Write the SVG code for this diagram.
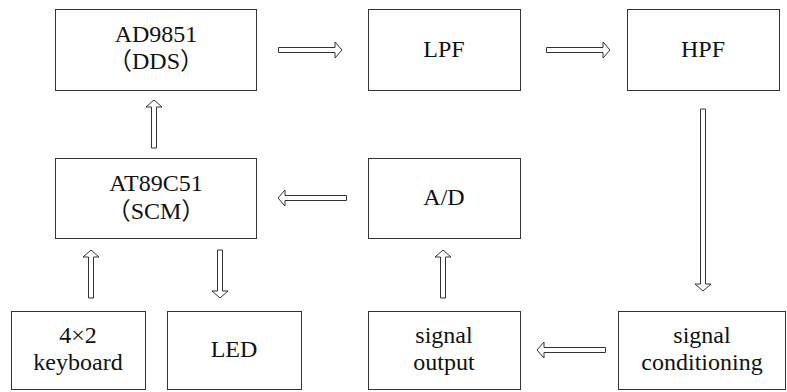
<svg xmlns="http://www.w3.org/2000/svg" width="787" height="392" viewBox="0 0 787 392">
<style>
.box{fill:#fff;stroke:#333;stroke-width:1}
.arr{fill:#fff;stroke:#333;stroke-width:1;stroke-linejoin:miter}
</style>
<rect width="787" height="392" fill="#fff"/>
<g font-family="Liberation Serif, Noto Sans CJK SC, serif" font-size="24" fill="#111" text-anchor="middle">
<g id="dds"><rect class="box" x="55.5" y="9.5" width="201" height="81"/><text x="156" y="42">AD9851</text><text x="156" y="69">（DDS）</text></g>
<g id="lpf"><rect class="box" x="368.5" y="9.5" width="152" height="81"/><text x="444" y="57">LPF</text></g>
<g id="hpf"><rect class="box" x="627.5" y="9.5" width="152" height="81"/><text x="703" y="57">HPF</text></g>
<g id="scm"><rect class="box" x="55.5" y="158.5" width="201" height="80"/><text x="156" y="191">AT89C51</text><text x="156" y="219">（SCM）</text></g>
<g id="ad"><rect class="box" x="368.5" y="158.5" width="152" height="80"/><text x="444" y="205">A/D</text></g>
<g id="keyboard"><rect class="box" x="11.5" y="311.5" width="134" height="78"/><text x="78" y="343">4×2</text><text x="78" y="370">keyboard</text></g>
<g id="led"><rect class="box" x="167.5" y="311.5" width="134" height="78"/><text x="234" y="357">LED</text></g>
<g id="output"><rect class="box" x="368.5" y="311.5" width="152" height="78"/><text x="444" y="343">signal</text><text x="444" y="370">output</text></g>
<g id="conditioning"><rect class="box" x="618.5" y="311.5" width="167" height="78"/><text x="702" y="343">signal</text><text x="702" y="370">conditioning</text></g>
</g>
<g id="connectors">
<polygon class="arr" points="278.5,47.5 335,47.5 335,42 342,50 335,58 335,52.5 278.5,52.5"/>
<polygon class="arr" points="546.5,47.5 603,47.5 603,42 610,50 603,58 603,52.5 546.5,52.5"/>
<polygon class="arr" points="346.5,195.5 285,195.5 285,190 278,198 285,206 285,200.5 346.5,200.5"/>
<polygon class="arr" points="605.5,347.5 544,347.5 544,342 537,350 544,358 544,352.5 605.5,352.5"/>
<polygon class="arr" points="151.5,148 151.5,107 146,107 154,100 162,107 156.5,107 156.5,148"/>
<polygon class="arr" points="88.5,298 88.5,257 83,257 91,250 99,257 93.5,257 93.5,298"/>
<polygon class="arr" points="440.5,298 440.5,257 435,257 443,250 451,257 445.5,257 445.5,298"/>
<polygon class="arr" points="217.5,250 217.5,291 212,291 220,298 228,291 222.5,291 222.5,250"/>
<polygon class="arr" points="700.5,109 700.5,284 695,284 703,291 711,284 705.5,284 705.5,109"/>
</g>
</svg>
